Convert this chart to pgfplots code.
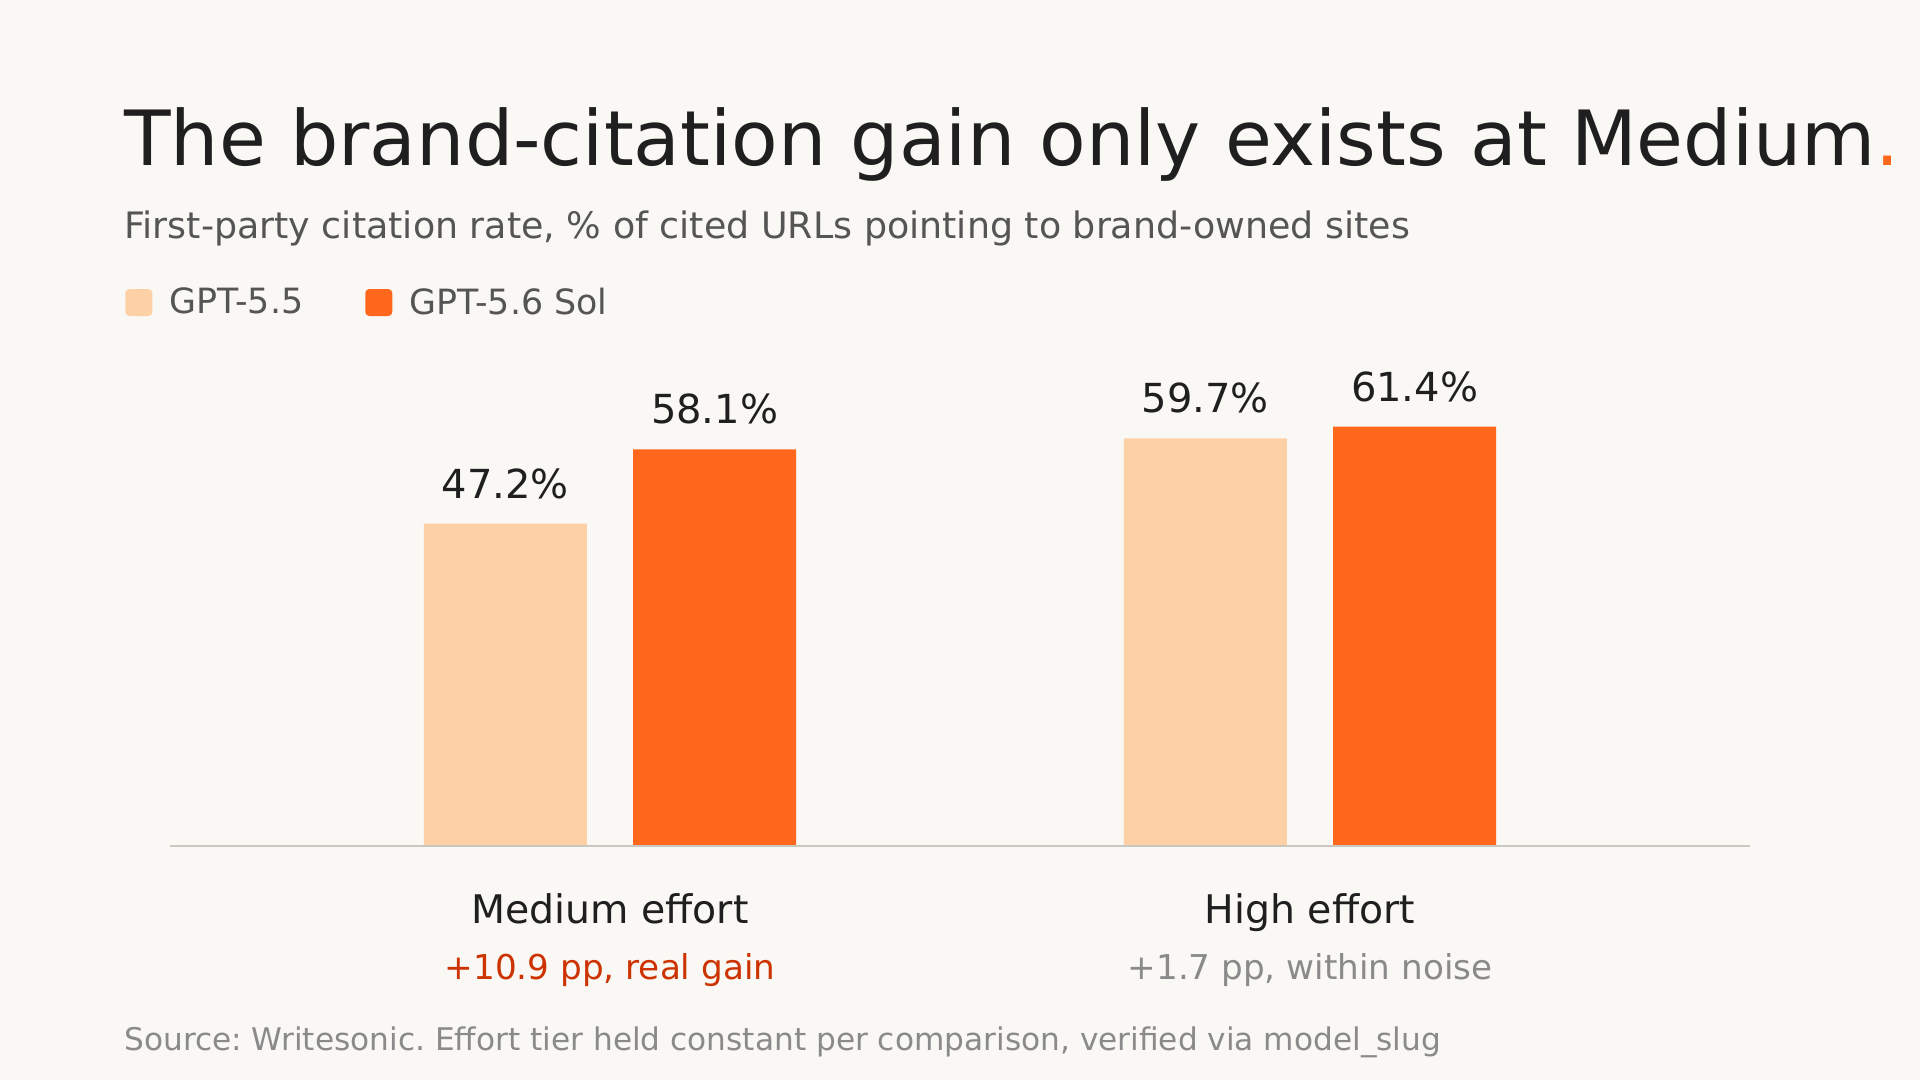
\documentclass[border=0pt]{standalone}
\usepackage{pgfplots}
\pgfplotsset{compat=1.18}
\usepackage{fontspec}
\setmainfont{DejaVu Sans}
\frenchspacing
\definecolor{bg}{HTML}{FAF8F4}
\definecolor{light}{HTML}{FED0A6}
\definecolor{orng}{HTML}{FF681C}
\definecolor{ttl}{HTML}{1F1F1F}
\definecolor{subc}{HTML}{555555}
\definecolor{redl}{HTML}{CC3300}
\definecolor{gry}{HTML}{8A8A8A}
\definecolor{axl}{HTML}{C8C8C0}
\begin{document}
\begin{tikzpicture}
\fill[bg] (0pt,0pt) rectangle (960pt,540pt);
\node[anchor=base west, font=\fontsize{38.1}{44}\selectfont, text=ttl, inner sep=0] at (62pt,457.4pt) {The brand-citation gain only exists at Medium\textcolor{orng}{.}};
\node[anchor=base west, font=\fontsize{18.2}{22}\selectfont, text=subc, inner sep=0] at (62pt,420.6pt) {First-party citation rate, \% of cited URLs pointing to brand-owned sites};
\node[anchor=base west, font=\fontsize{15.6}{20}\selectfont, text=gry, inner sep=0] at (62pt,14.6pt) {Source: Writesonic. Effort tier held constant per comparison, verified via model\_slug};
\begin{axis}[
  at={(85pt,117pt)}, anchor=south west,
  scale only axis, width=790pt, height=239pt,
  hide axis, clip=false,
  xmin=-0.6286, xmax=1.6286, ymin=0, ymax=70,
  ybar, bar width=81.5pt,
  /pgf/number format/assume math mode=true,
  nodes near coords={\pgfmathprintnumber[fixed,precision=1,fixed zerofill]{\pgfplotspointmeta}\%},
  every node near coord/.append style={anchor=base, yshift=12.7pt, font=\fontsize{20}{24}\selectfont, text=ttl, inner sep=0},
  legend columns=2,
  legend style={at={(-0.0285,1.137)}, anchor=west, draw=none, fill=none, inner sep=0pt,
    font=\fontsize{17.4}{20}\selectfont, text=subc,
    nodes={inner sep=0pt},
    /tikz/every odd column/.append style={column sep=8.5pt},
    /tikz/every even column/.append style={column sep=31pt}},
  legend image code/.code={\fill[#1, rounded corners=2pt] (0pt,-6.75pt) rectangle (13.5pt,6.75pt);},
]
\addplot[fill=light, draw=none, bar shift=-52.3pt] coordinates {(0,47.2) (1,59.7)};
\addplot[fill=orng, draw=none, bar shift=52.3pt] coordinates {(0,58.1) (1,61.4)};
\legend{GPT-5.5, GPT-5.6 Sol}
\draw[axl, line width=1.1pt] (rel axis cs:0,0) -- (rel axis cs:1,0);
\node[anchor=base, font=\fontsize{19.7}{24}\selectfont, text=ttl] at (axis cs:0,0) [yshift=-38.6pt] {Medium effort};
\node[anchor=base, font=\fontsize{17.1}{22}\selectfont, text=redl] at (axis cs:0,0) [yshift=-66.7pt] {+10.9 pp, real gain};
\node[anchor=base, font=\fontsize{19.7}{24}\selectfont, text=ttl] at (axis cs:1,0) [yshift=-38.6pt] {High effort};
\node[anchor=base, font=\fontsize{17.1}{22}\selectfont, text=gry] at (axis cs:1,0) [yshift=-66.7pt] {+1.7 pp, within noise};
\end{axis}
\end{tikzpicture}
\end{document}
